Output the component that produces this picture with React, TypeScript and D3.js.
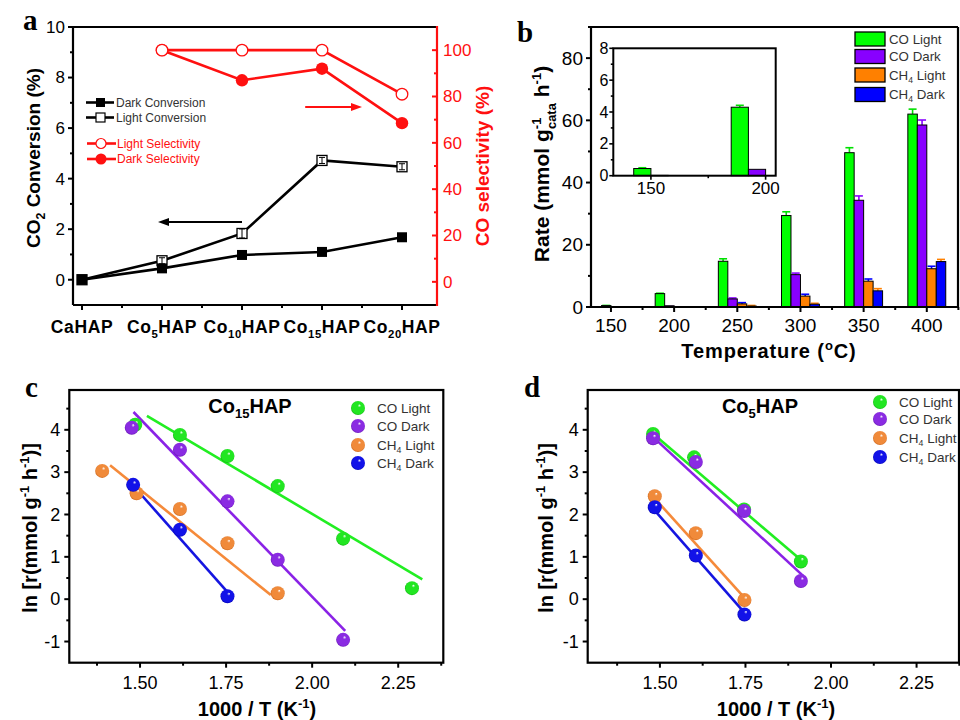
import React from 'react';
import * as d3 from 'd3';

const FONT = '"Liberation Sans", Arial, Helvetica, sans-serif';
const SERIF = '"Liberation Serif", "Times New Roman", serif';

// ---------- Panel a data ----------
const catMain = ['Ca', 'Co', 'Co', 'Co', 'Co'];
const catSub = ['', '5', '10', '15', '20'];
const darkConversion = [0.0, 0.45, 0.98, 1.1, 1.68];
const lightConversion = [0.0, 0.75, 1.83, 4.72, 4.47];
const lightConversionErr = [0.03, 0.12, 0.18, 0.12, 0.12];
const lightSelectivity = [NaN, 100, 100, 100, 81];
const darkSelectivity = [NaN, 100, 87, 92, 68.5];
const convTicks = [0, 2, 4, 6, 8, 10];
const convMinor = [1, 3, 5, 7, 9];
const selTicks = [0, 20, 40, 60, 80, 100];
const selMinor = [10, 30, 50, 70, 90];

// ---------- Panel b data ----------
const temps = [150, 200, 250, 300, 350, 400];
const firstSlot = [-1, -2, -2, -2, -2, -2];
const coLight = [0.45, 4.3, 14.7, 29.4, 49.6, 62.0];
const coLightErr = [0.05, 0.12, 0.8, 1.2, 1.6, 1.6];
const coDark = [0.02, 0.4, 2.6, 10.4, 34.3, 58.5];
const coDarkErr = [0, 0, 0.3, 0.5, 1.4, 1.6];
const ch4Light = [0, 0, 1.0, 3.5, 8.3, 12.3];
const ch4LightErr = [0, 0, 0.4, 0.6, 0.7, 0.8];
const ch4Dark = [0, 0, 0.3, 0.9, 5.2, 14.6];
const ch4DarkErr = [0, 0, 0.2, 0.3, 0.7, 0.7];
const rateTicks = [0, 20, 40, 60, 80];
const rateMinor = [10, 30, 50, 70, 90];
const tempMinor = [175, 225, 275, 325, 375, 425];
const insetTemps = [150, 200];
const insetTicks = [0, 2, 4, 6, 8];
const insetMinor = [1, 3, 5, 7];

// ---------- Series names ----------
const seriesMain = ['CO', 'CO', 'CH', 'CH'];
const seriesSub = ['', '', '4', '4'];
const seriesRest = [' Light', ' Dark', ' Light', ' Dark'];

// ---------- Panel c data (Co15HAP) ----------
const cX = [
  [1.486, 1.616, 1.754, 1.90, 2.09, 2.29],
  [1.476, 1.616, 1.754, 1.90, 2.09],
  [1.39, 1.49, 1.616, 1.754, 1.90],
  [1.48, 1.616, 1.754],
];
const cY = [
  [4.12, 3.88, 3.38, 2.67, 1.43, 0.26],
  [4.05, 3.53, 2.31, 0.93, -0.96],
  [3.03, 2.5, 2.13, 1.32, 0.14],
  [2.7, 1.64, 0.07],
];
const cSlope = [-4.825, -8.407, -6.56, -9.18];
const cIntercept = [11.664, 16.871, 12.43, 16.27];
const cFitStart = [1.52, 1.481, 1.413, 1.476];
const cFitEnd = [2.32, 2.096, 1.88, 1.76];

// ---------- Panel d data (Co5HAP) ----------
const dX = [
  [1.48, 1.60, 1.746, 1.912],
  [1.48, 1.605, 1.746, 1.912],
  [1.485, 1.605, 1.747],
  [1.485, 1.605, 1.747],
];
const dY = [
  [3.9, 3.35, 2.12, 0.89],
  [3.8, 3.24, 2.08, 0.43],
  [2.43, 1.56, -0.02],
  [2.17, 1.03, -0.36],
];
const dSlope = [-6.9, -7.48, -8.95, -9.21];
const dIntercept = [14.12, 14.9, 15.67, 15.77];
const dFitStart = [1.474, 1.474, 1.476, 1.471];
const dFitEnd = [1.9235, 1.9185, 1.748, 1.743];

const arrTicksX = [1.5, 1.75, 2.0, 2.25];
const arrMinorX = [1.375, 1.625, 1.875, 2.125, 2.375];
const arrTicksY = [-1, 0, 1, 2, 3, 4];
const arrMinorY = [-0.5, 0.5, 1.5, 2.5, 3.5, 4.5];

// ---------- Colours ----------
const BAR_COLORS = ['#00ff00', '#8800ff', '#ff8000', '#0000ff'];
const ERR_COLORS = ['#00e000', '#8800ff', '#0000ff', '#ff8000'];
const LINE_COLORS = ['#22ee22', '#8a22e6', '#f58a3a', '#1515e0'];
const BALL_COLORS = ['#22e622', '#8a2be2', '#f08a3a', '#1212e8'];
const BALL_DARK = ['#0aa00a', '#5a10a0', '#c05a10', '#0000a0'];
const RED = '#ff1010';

function Sub({ main, sub, rest, fs, shift }: any) {
  const s = shift ?? fs * 0.3;
  return (
    <>
      <tspan>{main}</tspan>
      {sub ? <tspan dy={s} fontSize={fs * 0.65}>{sub}</tspan> : null}
      <tspan dy={sub ? -s : 0}>{rest}</tspan>
    </>
  );
}

function PanelA() {
  const x = d3.scaleLinear().domain([-0.1125, 4.4375]).range([73, 437]);
  const y = d3.scaleLinear().domain([-1, 10]).range([305, 27]);
  const yr = d3.scaleLinear().domain([-10, 110]).range([305, 27]);
  const idx = catMain.map((_, i) => i);
  const line = d3.line<number>().x((_, i) => x(i)).y((d) => y(d));
  const selLine = d3
    .line<number>()
    .defined((d) => !isNaN(d))
    .x((_, i) => x(i))
    .y((d) => yr(d));
  const [x0, x1] = x.range();
  const [yb, yt] = y.range();
  const sq = 10;
  return (
    <g>
      <line x1={x0} x2={x1} y1={yt} y2={yt} stroke="#000" strokeWidth={2.2} />
      <line x1={x0} x2={x1} y1={yb} y2={yb} stroke="#000" strokeWidth={2.2} />
      <line x1={x0} x2={x0} y1={yt} y2={yb} stroke="#000" strokeWidth={2.2} />
      <line x1={x1} x2={x1} y1={yt - 1} y2={yb + 1} stroke={RED} strokeWidth={2.2} />
      {convTicks.map((t) => (
        <g key={'l' + t}>
          <line x1={x0 - 5} x2={x0} y1={y(t)} y2={y(t)} stroke="#000" strokeWidth={2} />
          <text x={x0 - 8} y={y(t)} dy="0.35em" textAnchor="end" fontSize={17}>{t}</text>
        </g>
      ))}
      {convMinor.map((t) => (
        <line key={'lm' + t} x1={x0 - 3} x2={x0} y1={y(t)} y2={y(t)} stroke="#000" strokeWidth={2} />
      ))}
      {selTicks.map((t) => (
        <g key={'r' + t}>
          <line x1={x1 - 5} x2={x1} y1={yr(t)} y2={yr(t)} stroke={RED} strokeWidth={2} />
          <text x={x1 + 6} y={yr(t)} dy="0.35em" fontSize={17} fill={RED}>{t}</text>
        </g>
      ))}
      {selMinor.map((t) => (
        <line key={'rm' + t} x1={x1 - 3} x2={x1} y1={yr(t)} y2={yr(t)} stroke={RED} strokeWidth={2} />
      ))}
      {idx.map((i) => (
        <g key={'b' + i}>
          <line x1={x(i)} x2={x(i)} y1={yb} y2={yb + 5} stroke="#000" strokeWidth={2} />
          <text x={x(i)} y={333} textAnchor="middle" fontSize={17.5} fontWeight="bold" letterSpacing={0.6}>
            <Sub main={catMain[i]} sub={catSub[i]} rest="HAP" fs={17.5} />
          </text>
        </g>
      ))}
      {idx.slice(0, 4).map((i) => (
        <line key={'bm' + i} x1={x(i + 0.5)} x2={x(i + 0.5)} y1={yb} y2={yb + 3} stroke="#000" strokeWidth={2} />
      ))}
      <path d={selLine(lightSelectivity) || ''} fill="none" stroke={RED} strokeWidth={2.6} />
      <path d={selLine(darkSelectivity) || ''} fill="none" stroke={RED} strokeWidth={2.6} />
      {darkSelectivity.map((v, i) =>
        isNaN(v) ? null : <circle key={'ds' + i} cx={x(i)} cy={yr(v)} r={6.2} fill={RED} />
      )}
      {lightSelectivity.map((v, i) =>
        isNaN(v) ? null : (
          <circle key={'ls' + i} cx={x(i)} cy={yr(v)} r={5.8} fill="#fff" stroke={RED} strokeWidth={1.3} />
        )
      )}
      <path d={line(lightConversion) || ''} fill="none" stroke="#000" strokeWidth={2.6} />
      <path d={line(darkConversion) || ''} fill="none" stroke="#000" strokeWidth={2.6} />
      {lightConversion.map((v, i) => (
        <g key={'lc' + i}>
          <rect x={x(i) - sq / 2} y={y(v) - sq / 2} width={sq} height={sq} fill="#fff" stroke="#000" strokeWidth={1.3} />
          <line x1={x(i)} x2={x(i)} y1={y(v - lightConversionErr[i])} y2={y(v + lightConversionErr[i])} stroke="#000" strokeWidth={1} />
          <line x1={x(i) - 3} x2={x(i) + 3} y1={y(v + lightConversionErr[i])} y2={y(v + lightConversionErr[i])} stroke="#000" strokeWidth={1} />
          <line x1={x(i) - 3} x2={x(i) + 3} y1={y(v - lightConversionErr[i])} y2={y(v - lightConversionErr[i])} stroke="#000" strokeWidth={1} />
        </g>
      ))}
      {darkConversion.map((v, i) => (
        <rect key={'dc' + i} x={x(i) - sq / 2} y={y(v) - sq / 2} width={sq} height={sq} fill="#000" />
      ))}
      <line x1={x(2)} x2={x(1.0)} y1={y(2.28)} y2={y(2.28)} stroke="#000" strokeWidth={2} />
      <path
        d={`M${x(0.95)},${y(2.28)} L${x(0.95) + 11},${y(2.28) - 4} L${x(0.95) + 11},${y(2.28) + 4} Z`}
        fill="#000"
      />
      <line x1={x(2.79)} x2={x(3.4)} y1={yr(75.5)} y2={yr(75.5)} stroke={RED} strokeWidth={2} />
      <path
        d={`M${x(3.5)},${yr(75.5)} L${x(3.5) - 11},${yr(75.5) - 4} L${x(3.5) - 11},${yr(75.5) + 4} Z`}
        fill={RED}
      />
      <g fontSize={12}>
        <line x1={86} x2={114} y1={102.5} y2={102.5} stroke="#000" strokeWidth={2.6} />
        <rect x={96} y={98} width={9} height={9} fill="#000" />
        <text x={116} y={102.5} dy="0.35em" fill="#333">Dark Conversion</text>
        <line x1={86} x2={114} y1={117.5} y2={117.5} stroke="#000" strokeWidth={2.6} />
        <rect x={96} y={113} width={9} height={9} fill="#fff" stroke="#000" strokeWidth={1.2} />
        <text x={116} y={117.5} dy="0.35em" fill="#333">Light Conversion</text>
        <line x1={87} x2={116} y1={143.5} y2={143.5} stroke={RED} strokeWidth={2.6} />
        <circle cx={101} cy={143.5} r={5} fill="#fff" stroke={RED} strokeWidth={1.2} />
        <text x={117} y={143.5} dy="0.35em" fill={RED}>Light Selectivity</text>
        <line x1={87} x2={116} y1={159} y2={159} stroke={RED} strokeWidth={2.6} />
        <circle cx={101} cy={159} r={5.5} fill={RED} />
        <text x={117} y={159} dy="0.35em" fill={RED}>Dark Selectivity</text>
      </g>
      <text transform="translate(33,158) rotate(-90)" textAnchor="middle" dy="0.35em" fontSize={19} fontWeight="bold">
        <Sub main="CO" sub="2" rest=" Conversion (%)" fs={19} />
      </text>
      <text transform="translate(482,166) rotate(-90)" textAnchor="middle" dy="0.35em" fontSize={19} fontWeight="bold" fill={RED}>
        CO selectivity (%)
      </text>
      <text x={23} y={30} fontFamily={SERIF} fontWeight="bold" fontSize={29}>a</text>
    </g>
  );
}

function PanelB() {
  const x = d3.scaleLinear().domain([134.2, 424.7]).range([591, 958]);
  const y = d3.scaleLinear().domain([0, 90]).range([307, 27]);
  const series = [coLight, coDark, ch4Light, ch4Dark];
  const errs = [coLightErr, coDarkErr, ch4LightErr, ch4DarkErr];
  const BW = 7.5;
  const [x0, x1] = x.range();
  const [yb, yt] = y.range();

  const xi = d3.scaleLinear().domain([133.6, 204.4]).range([613.3, 775.7]);
  const yi = d3.scaleLinear().domain([0, 8]).range([175.7, 48.3]);
  const [ix0, ix1] = xi.range();
  const [iyb, iyt] = yi.range();

  const bars = (xs: any, ys: any, ts: number[], lw: number, capW: number, pre: string) =>
    ts.map((t, ti) =>
      series.map((s, si) => {
        const v = s[ti];
        if (!(v > 0)) return null;
        const slot = firstSlot[ti] + si;
        const bx0 = xs(t + slot * BW);
        const bx1 = xs(t + (slot + 1) * BW);
        const e = errs[si][ti];
        const cx = (bx0 + bx1) / 2;
        return (
          <g key={pre + ti + '-' + si}>
            {e > 0 && ys.domain()[1] > v + e ? (
              <g stroke={ERR_COLORS[si]} strokeWidth={1.6}>
                <line x1={cx} x2={cx} y1={ys(v)} y2={ys(v + e)} />
                <line x1={cx - capW / 2} x2={cx + capW / 2} y1={ys(v + e)} y2={ys(v + e)} />
              </g>
            ) : null}
            <rect x={bx0} y={ys(v)} width={bx1 - bx0} height={ys(0) - ys(v)} fill={BAR_COLORS[si]} stroke="#000" strokeWidth={lw} />
          </g>
        );
      })
    );

  return (
    <g>
      {bars(x, y, temps, 1, 8, 'm')}
      <line x1={x0} x2={x1} y1={yt} y2={yt} stroke="#000" strokeWidth={2.2} />
      <line x1={x0} x2={x1} y1={yb} y2={yb} stroke="#000" strokeWidth={2.2} />
      <line x1={x0} x2={x0} y1={yt} y2={yb} stroke="#000" strokeWidth={2.2} />
      <line x1={x1} x2={x1} y1={yt} y2={yb} stroke="#000" strokeWidth={2.2} />
      {rateTicks.map((t) => (
        <g key={'y' + t}>
          <line x1={x0 - 5} x2={x0} y1={y(t)} y2={y(t)} stroke="#000" strokeWidth={2} />
          <text x={x0 - 8} y={y(t)} dy="0.35em" textAnchor="end" fontSize={19}>{t}</text>
        </g>
      ))}
      {rateMinor.map((t) => (
        <line key={'ym' + t} x1={x0 - 3} x2={x0} y1={y(t)} y2={y(t)} stroke="#000" strokeWidth={2} />
      ))}
      {temps.map((t) => (
        <g key={'x' + t}>
          <line x1={x(t)} x2={x(t)} y1={yb} y2={yb + 5} stroke="#000" strokeWidth={2} />
          <text x={x(t)} y={325} dy="0.35em" textAnchor="middle" fontSize={19}>{t}</text>
        </g>
      ))}
      {tempMinor.map((t) => (
        <line key={'xm' + t} x1={x(t)} x2={x(t)} y1={yb} y2={yb + 3} stroke="#000" strokeWidth={2} />
      ))}
      <rect x={ix0} y={iyt} width={ix1 - ix0} height={iyb - iyt} fill="#fff" />
      {bars(xi, yi, insetTemps, 1, 8, 'i')}
      <rect x={ix0} y={iyt} width={ix1 - ix0} height={iyb - iyt} fill="none" stroke="#000" strokeWidth={2} />
      {insetTicks.map((t) => (
        <g key={'iy' + t}>
          <line x1={ix0 - 4} x2={ix0} y1={yi(t)} y2={yi(t)} stroke="#000" strokeWidth={1.6} />
          <text x={ix0 - 5} y={yi(t)} dy="0.35em" textAnchor="end" fontSize={16}>{t}</text>
        </g>
      ))}
      {insetMinor.map((t) => (
        <line key={'iym' + t} x1={ix0 - 2.5} x2={ix0} y1={yi(t)} y2={yi(t)} stroke="#000" strokeWidth={1.6} />
      ))}
      {insetTemps.map((t) => (
        <g key={'ix' + t}>
          <line x1={xi(t)} x2={xi(t)} y1={iyb} y2={iyb + 4} stroke="#000" strokeWidth={1.6} />
          <text x={xi(t)} y={188} dy="0.35em" textAnchor="middle" fontSize={17}>{t}</text>
        </g>
      ))}
      <line x1={xi(175)} x2={xi(175)} y1={iyb} y2={iyb + 2.5} stroke="#000" strokeWidth={1.6} />
      {series.map((_, si) => {
        const cy = [39, 56.5, 75, 94.5][si];
        return (
          <g key={'lg' + si}>
            <rect x={855} y={cy - 7} width={30} height={14} fill={BAR_COLORS[si]} stroke="#000" strokeWidth={1.3} />
            <text x={889} y={cy} dy="0.35em" fontSize={13.3} fill="#333">
              <Sub main={seriesMain[si]} sub={seriesSub[si]} rest={seriesRest[si]} fs={13.3} shift={3} />
            </text>
          </g>
        );
      })}
      <text transform="translate(542,164) rotate(-90)" textAnchor="middle" dy="0.35em" fontSize={21} fontWeight="bold">
        <tspan>Rate (mmol g</tspan>
        <tspan dy={-8} fontSize={13}>-1</tspan>
        <tspan dx={-11.5} dy={15} fontSize={13}>cata</tspan>
        <tspan dy={-7}> h</tspan>
        <tspan dy={-8} fontSize={13}>-1</tspan>
        <tspan dy={8}>)</tspan>
      </text>
      <text x={769} y={358} textAnchor="middle" fontSize={20} fontWeight="bold" letterSpacing={0.9}>
        <tspan>Temperature (</tspan>
        <tspan dy={-8} fontSize={13}>o</tspan>
        <tspan dy={8}>C)</tspan>
      </text>
      <text x={517} y={42} fontFamily={SERIF} fontWeight="bold" fontSize={29}>b</text>
    </g>
  );
}

function ArrPanel(props: any) {
  const { range, xs, ys, slope, intercept, fitStart, fitEnd, letter, letterX, titleSub, titleX, legX, legRows, legTextX, yTitleX, xTitleX } = props;
  const x = d3.scaleLinear().domain(props.domain).range(range);
  const y = d3.scaleLinear().domain([-1.5, 4.94]).range([662.7, 390]);
  const [x0, x1] = x.range();
  const [yb, yt] = y.range();
  return (
    <g>
      <rect x={x0} y={yt} width={x1 - x0} height={yb - yt} fill="none" stroke="#000" strokeWidth={2.2} />
      {arrTicksY.map((t) => (
        <g key={'y' + t}>
          <line x1={x0 - 5} x2={x0} y1={y(t)} y2={y(t)} stroke="#000" strokeWidth={2} />
          <text x={x0 - 9} y={y(t)} dy="0.35em" textAnchor="end" fontSize={18}>{t}</text>
        </g>
      ))}
      {arrMinorY.map((t) => (
        <line key={'ym' + t} x1={x0 - 3} x2={x0} y1={y(t)} y2={y(t)} stroke="#000" strokeWidth={2} />
      ))}
      {arrTicksX.map((t) => (
        <g key={'x' + t}>
          <line x1={x(t)} x2={x(t)} y1={yb} y2={yb + 5} stroke="#000" strokeWidth={2} />
          <text x={x(t)} y={683} dy="0.35em" textAnchor="middle" fontSize={18}>{t.toFixed(2)}</text>
        </g>
      ))}
      {arrMinorX.map((t) => (
        <line key={'xm' + t} x1={x(t)} x2={x(t)} y1={yb} y2={yb + 3} stroke="#000" strokeWidth={2} />
      ))}
      {slope.map((s: number, si: number) => {
        const pts: [number, number][] = [fitStart[si], fitEnd[si]].map((xv: number) => [xv, s * xv + intercept[si]]);
        const path = d3.line<[number, number]>().x((d) => x(d[0])).y((d) => y(d[1]))(pts);
        return <path key={'f' + si} d={path || ''} stroke={LINE_COLORS[si]} strokeWidth={2.6} fill="none" />;
      })}
      {xs.map((arr: number[], si: number) =>
        arr.map((xv: number, pi: number) => (
          <circle key={'p' + si + '-' + pi} cx={x(xv)} cy={y(ys[si][pi])} r={7} fill={`url(#ball${si})`} />
        ))
      )}
      <text x={titleX} y={413} textAnchor="middle" fontSize={20} fontWeight="bold">
        <Sub main="Co" sub={titleSub} rest="HAP" fs={20} shift={5} />
      </text>
      {xs.map((_: any, si: number) => (
        <g key={'lg' + si}>
          <circle cx={legX} cy={legRows[si]} r={7} fill={`url(#ball${si})`} />
          <text x={legTextX} y={legRows[si]} dy="0.35em" fontSize={13.5} fill="#333">
            <Sub main={seriesMain[si]} sub={seriesSub[si]} rest={seriesRest[si]} fs={13.5} shift={3} />
          </text>
        </g>
      ))}
      <text transform={`translate(${yTitleX},528) rotate(-90)`} textAnchor="middle" dy="0.35em" fontSize={20} fontWeight="bold">
        <tspan>ln [r(mmol g</tspan>
        <tspan dy={-8} fontSize={13}>-1</tspan>
        <tspan dy={8}> h</tspan>
        <tspan dy={-8} fontSize={13}>-1</tspan>
        <tspan dy={8}>)]</tspan>
      </text>
      <text x={xTitleX} y={716} textAnchor="middle" fontSize={20} fontWeight="bold">
        <tspan>1000 / T (K</tspan>
        <tspan dy={-8} fontSize={13}>-1</tspan>
        <tspan dy={8}>)</tspan>
      </text>
      <text x={letterX} y={397} fontFamily={SERIF} fontWeight="bold" fontSize={29}>{letter}</text>
    </g>
  );
}

export default function App() {
  return (
    <svg width={960} height={720} style={{ position: 'absolute', left: 0, top: 0 }} fontFamily={FONT}>
      <rect width={960} height={720} fill="#fff" />
      <defs>
        {BALL_COLORS.map((c, i) => (
          <radialGradient key={i} id={`ball${i}`} cx="0.5" cy="0.5" r="0.55" fx="0.62" fy="0.3">
            <stop offset="0" stopColor="#ffffff" />
            <stop offset="0.22" stopColor={c} />
            <stop offset="0.8" stopColor={c} />
            <stop offset="1" stopColor={BALL_DARK[i]} />
          </radialGradient>
        ))}
      </defs>
      <PanelA />
      <PanelB />
      <ArrPanel
        domain={[1.2945, 2.381]}
        range={[69.3, 443.3]}
        xs={cX}
        ys={cY}
        slope={cSlope}
        intercept={cIntercept}
        fitStart={cFitStart}
        fitEnd={cFitEnd}
        letter="c"
        letterX={25}
        titleSub="15"
        titleX={250}
        legX={358}
        legRows={[408, 426, 445, 463]}
        legTextX={377}
        yTitleX={30}
        xTitleX={257}
      />
      <ArrPanel
        domain={[1.289, 2.374]}
        range={[587.7, 959]}
        xs={dX}
        ys={dY}
        slope={dSlope}
        intercept={dIntercept}
        fitStart={dFitStart}
        fitEnd={dFitEnd}
        letter="d"
        letterX={524}
        titleSub="5"
        titleX={760}
        legX={880}
        legRows={[402, 419, 438, 457]}
        legTextX={899}
        yTitleX={546}
        xTitleX={776}
      />
    </svg>
  );
}
